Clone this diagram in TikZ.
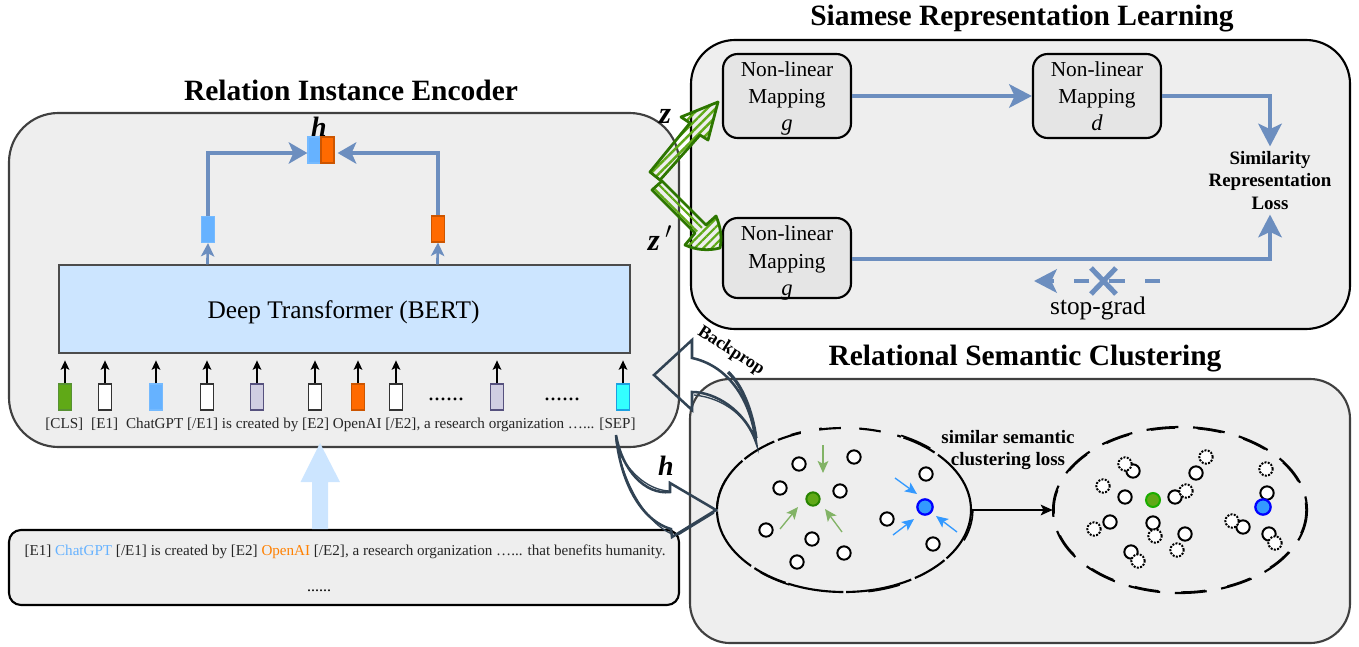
\documentclass[tikz,border=0pt]{standalone}
\usepackage{fontspec}
\setmainfont{Liberation Serif}
\usetikzlibrary{arrows.meta,patterns.meta,calc}
\definecolor{panelfill}{HTML}{EEEEEE}
\definecolor{bluelink}{HTML}{6C8EBF}
\definecolor{tokblue}{HTML}{66B2FF}
\definecolor{tokorange}{HTML}{FF6A00}
\definecolor{tokpurple}{HTML}{D0CEE2}
\definecolor{tokpurpleline}{HTML}{56517E}
\definecolor{tokgreen}{HTML}{60A917}
\definecolor{darkgreen}{HTML}{2D7600}
\definecolor{slatearrow}{HTML}{314354}
\definecolor{bertfill}{HTML}{CCE5FF}
\definecolor{greenlink}{HTML}{82B366}
\definecolor{bluein}{HTML}{3399FF}
\definecolor{tokcyan}{HTML}{33FFFF}
\definecolor{tokcyanline}{HTML}{1BA1E2}
\tikzset{
  panel/.style={draw,fill=panelfill,inner sep=0pt,line width=1.6pt},
  tok/.style={draw,inner sep=0pt,minimum width=9.75pt,minimum height=19.5pt,line width=0.9pt},
  tokw/.style={tok,fill=white,draw=black!80},
  tokb/.style={tok,fill=tokblue,draw=tokblue!90!white},
  toko/.style={tok,fill=tokorange,draw=tokorange!80!black},
  tokp/.style={tok,fill=tokpurple,draw=tokpurpleline},
  tokg/.style={tok,fill=tokgreen,draw=darkgreen!80},
  tokc/.style={tok,fill=tokcyan,draw=tokcyanline},
  bigblue/.style={draw=bluelink,line width=3.6pt,-{Stealth[length=17pt,width=17.5pt,inset=4pt]}},
  midblue/.style={draw=bluelink,line width=2.6pt,-{Stealth[length=14pt,width=16pt,inset=3.5pt]}},
  smallblue/.style={draw=bluelink,line width=2pt,-{Stealth[length=10pt,width=10pt,inset=2.5pt]}},
  tiny/.style={draw=black,line width=0.9pt,-{Stealth[length=7pt,width=6.5pt,inset=1.5pt]}},
  mapbox/.style={draw,fill=black!10,rounded corners=11pt,line width=1.6pt,minimum width=96pt,align=center,inner sep=0pt,font=\fontsize{16}{20.5}\selectfont},
  titlefont/.style={font=\fontsize{22.1}{26}\selectfont\bfseries},
  lossfont/.style={font=\fontsize{14.2}{17}\selectfont\bfseries,align=center},
  open/.style={circle,draw=black,fill=white,line width=1.5pt,minimum size=10pt,inner sep=0pt},
  dots/.style={open,densely dotted},
  sketcharrow/.style={draw=darkgreen,line width=2.1pt,line join=round},
  slatecurve/.style={draw=slatearrow,line width=1.9pt,line join=miter},
  gin/.style={draw=greenlink,line width=1pt,-{Stealth[length=9pt,width=8pt,inset=2pt]}},
  bin/.style={draw=bluein,line width=1pt,-{Stealth[length=9pt,width=8pt,inset=2pt]}},
}
\begin{document}
\begin{tikzpicture}[x=0.75pt,y=-0.75pt]
\useasboundingbox (0,0) rectangle (1359,646);

% panels
\node[panel,draw=black!75,minimum width=502.5pt,minimum height=250.5pt,rounded corners=37pt] (enc) at (344,280) {};
\node[panel,draw=black,minimum width=494.25pt,minimum height=216.75pt,rounded corners=33pt] (sia) at (1020.5,184.5) {};
\node[panel,draw=black!75,minimum width=495pt,minimum height=198pt,rounded corners=30pt] (clu) at (1020,511) {};
\node[panel,draw=black,minimum width=502.5pt,minimum height=56.25pt,rounded corners=9pt] (inp) at (344,567.5) {};

% titles
\node[titlefont] (t1) at (351,90) {Relation Instance Encoder};
\node[titlefont] (t2) at (1022,18.5) {Siamese Representation Learning};
\node[titlefont] (t3) at (1025,359) {Relational Semantic Clustering};

% BERT
\node[draw=black!70,fill=bertfill,line width=0.9pt,minimum width=428.25pt,minimum height=66pt,inner sep=0pt] (bert) at (344.5,309) {};
\node[font=\fontsize{19}{23}\selectfont,inner sep=0pt] (berttext) at (343.5,312) {Deep Transformer (BERT)};

% tokens
\node[tokg] (k1) at (65,397) {};
\node[tokw] (k2) at (105,397) {};
\node[tokb] (k3) at (156,397) {};
\node[tokw] (k4) at (207,397) {};
\node[tokp] (k5) at (257,397) {};
\node[tokw] (k6) at (315,397) {};
\node[toko] (k7) at (358,397) {};
\node[tokw] (k8) at (396,397) {};
\node[tokp] (k9) at (497,397) {};
\node[tokc] (k10) at (623,397) {};
\foreach \i in {1,...,10}{
  \coordinate (e\i) at ($(k\i.north)+(0,-23)$);
  \draw[tiny] (k\i.north) -- (e\i);
}
\node[font=\fontsize{18}{20}\selectfont,anchor=base,inner sep=0pt] (dots1) at (446,400) {......};
\node[font=\fontsize{18}{20}\selectfont,anchor=base,inner sep=0pt] (dots2) at (562,400) {......};
\node[font=\fontsize{11.35}{13}\selectfont,text=black!85,inner sep=0pt] (sent) at (340.5,424.5) {[CLS]\hspace{6pt}[E1]\hspace{6pt}ChatGPT [/E1] is created by [E2] OpenAI [/E2], a research organization …... [SEP]};

% encoder output
\node[tokb] (hl) at (208,229.5) {};
\node[toko] (hr) at (438,229) {};
\node[tokb] (hb) at (314.5,150) {};
\node[toko] (ho) at (327.5,150) {};
\node[font=\fontsize{21}{24}\selectfont\bfseries\itshape] (hlab) at (319,127) {h};
\draw[smallblue] ($(bert.north west)+(149,0)$) -- (hl.south);
\draw[smallblue] ($(bert.north west)+(379,0)$) -- (hr.south);
\draw[midblue] (hl.north) |- ($(hb.west)+(0,3)$);
\draw[midblue] (hr.north) |- ($(ho.east)+(3,3)$);

% input box
\node[font=\fontsize{11.33}{13}\selectfont,text=black!85,inner sep=0pt] (intext) at (345,551.5) {[E1] \textcolor{tokblue}{ChatGPT} [/E1] is created by [E2] \textcolor{orange}{OpenAI} [/E2], a research organization …... that benefits humanity.};
\node[font=\fontsize{12}{14}\selectfont] (indots) at (319,591) {......};
\fill[bertfill] (320,443) -- (340,482) -- (328,482) -- (328,529) -- (312,529) -- (312,482) -- (300.5,482) -- cycle;

% mapping boxes
\node[mapbox,minimum height=63pt] (m1) at (787,96) {Non-linear\\Mapping\\{\fontsize{17}{20.5}\selectfont\smash{\textit{g}}}};
\node[mapbox,minimum height=63pt] (m2) at (1097,96) {Non-linear\\Mapping\\{\fontsize{17}{20.5}\selectfont\smash{\textit{d}}}};
\node[mapbox,minimum height=60pt] (m3) at (787,258) {\rule{0pt}{15pt}Non-linear\\Mapping\\{\fontsize{17}{20.5}\selectfont\smash{\textit{g}}}};
\node[lossfont] (loss) at (1270,180.5) {Similarity\\Representation\\Loss};
\draw[bigblue] (m1.east) -- (m2.west);
\draw[bigblue] (m2.east) -| (loss.north);
\draw[bigblue] (m3.east |- 0,259) -| (loss.south);
\coordinate (sgs) at (1160,281);
\coordinate (sge) at (1034,281);
\draw[draw=bluelink,line width=3.4pt,dash pattern=on 11.5pt off 15pt,-{Stealth[length=17pt,width=17.5pt,inset=4pt]}] (sgs) -- (sge);
\draw[bluelink,line width=3.8pt] (1091,268) -- (1116,294) (1116,268) -- (1091,294);
\node[font=\fontsize{19}{23}\selectfont] (sg) at (1098,308) {stop-grad};

% sketched z arrows
\path[pattern={Lines[angle=45,distance=4.5pt,line width=1.8pt]},pattern color=tokgreen]
  (650,172) -- (660,180) -- (700,135) -- (708,140) -- (718,102) -- (681,117) -- (690,123) -- cycle;
\draw[sketcharrow] (650,172) -- (660,180) -- (700,135) -- (708,140) -- (718,102) -- (681,117) -- (690,123) -- cycle;
\path[pattern={Lines[angle=45,distance=4.5pt,line width=1.6pt]},pattern color=tokgreen]
  (695,233) -- (706,225) -- (716,216) .. controls (721,228) and (722,238) .. (720,248) .. controls (708,251) and (696,250) .. (685,245) -- cycle;
\path[pattern={Lines[angle=-45,distance=4.5pt,line width=1.6pt]},pattern color=tokgreen]
  (652,190) -- (662,181) -- (706,225) -- (695,233) -- cycle;
\draw[sketcharrow] (652,190) -- (662,181) -- (706,225) -- (716,216) .. controls (721,228) and (722,238) .. (720,248) .. controls (708,251) and (696,250) .. (685,245) -- (695,233) -- cycle;
\node[font=\fontsize{23}{26}\selectfont\bfseries\itshape] (zl) at (665,116) {z};
\node[font=\fontsize{23}{26}\selectfont\bfseries\itshape] (zp) at (660,238) {z$\,'$};

% ellipses
\coordinate (ce1) at (844,510);
\coordinate (ce2) at (1180,510);
\draw[black,line width=1.6pt,dash pattern=on 42pt off 2pt on 26pt off 3pt on 50pt off 2pt] (ce1) ellipse [x radius=127,y radius=82];
\draw[black,line width=1.2pt,dash pattern=on 24pt off 60pt] ([xshift=0.6pt]ce1) ellipse [x radius=128,y radius=83];
\draw[panelfill,line width=4pt] (801,432.5) -- (819,429.5) (841,428) -- (859,428) (881,431) -- (897,436);
\draw[black,line width=1.6pt,dash pattern=on 24pt off 11pt] (ce2) ellipse [x radius=127,y radius=83];
\draw[black,line width=1.1pt,dash pattern=on 18pt off 17pt] (ce2) ellipse [x radius=126,y radius=82];
\node[inner sep=0pt,minimum size=0pt] (el1e) at (971,510) {};
\node[inner sep=0pt,minimum size=0pt] (el2w) at (1053,510) {};
\draw[black,line width=1.2pt,-{Stealth[length=9pt,width=8pt,inset=2pt]}] (el1e) -- (el2w);
\node[lossfont] (simloss) at (1008,450) {similar semantic\\clustering loss};

% left cluster
\foreach \x/\y [count=\n] in {799/464,854/457,780/488,840/491,766/530,812/539,844/553,797/562,887/519,926/474,933/544}
  \node[open] (a\n) at (\x,\y) {};
\node[circle,draw=darkgreen!90!green,fill=tokgreen,line width=1.5pt,minimum size=10pt,inner sep=0pt] (ga) at (813,499) {};
\node[circle,draw=blue,fill=bluein,line width=1.7pt,minimum size=11.5pt,inner sep=0pt] (ba) at (925,507) {};
\coordinate (g1) at (823,445);
\coordinate (g2) at (780,529);
\coordinate (g3) at (842,532);
\coordinate (g1t) at (823,473);
\coordinate (g2t) at (798,507);
\coordinate (g3t) at (825,509);
\draw[gin] (g1) -- (g1t);
\draw[gin] (g2) -- (g2t);
\draw[gin] (g3) -- (g3t);
\coordinate (b1) at (895,478);
\coordinate (b2) at (893,535);
\coordinate (b3) at (957,532);
\coordinate (b1t) at (917,494);
\coordinate (b2t) at (914,519);
\coordinate (b3t) at (936,516);
\draw[bin] (b1) -- (b1t);
\draw[bin] (b2) -- (b2t);
\draw[bin] (b3) -- (b3t);

% right cluster
\foreach \x/\y [count=\n] in {1133/471,1196/473,1125/497,1175/497,1110/522,1153/523,1185/534,1131/552,1243/527,1267/493,1269/534}
  \node[open] (c\n) at (\x,\y) {};
\foreach \x/\y [count=\n] in {1125/464,1206/457,1103/486,1186/491,1094/529,1155/536,1177/550,1138/561,1232/521,1266/469,1275/543}
  \node[dots] (d\n) at (\x,\y) {};
\node[circle,draw=darkgreen!60!green,fill=tokgreen,line width=1.5pt,minimum size=10.5pt,inner sep=0pt] (gb) at (1153,500) {};
\node[circle,draw=blue,fill=bluein,line width=1.7pt,minimum size=11.5pt,inner sep=0pt] (bb) at (1263,507) {};

% backprop arrow
\coordinate (bpt) at (756,442);
\draw[slatecurve] (bpt) .. controls (750,395) and (725,365) .. (692,358) -- (692,340) -- (654,375) -- (692,410) -- (692,392) .. controls (715,392) and (745,410) .. cycle;
\draw[slatecurve,line width=1pt] (bpt) .. controls (748,418) and (725,398) .. (694,395);
\draw[slatecurve,line width=2.4pt] (756,438) .. controls (752,410) and (742,385) .. (728,372);
\node[font=\fontsize{13.5}{16}\selectfont\bfseries,rotate=-33] (bp) at (731,351) {Backprop};
\node[font=\fontsize{21}{24}\selectfont\bfseries\itshape] (hh) at (666,466) {h};

% h arrows
\coordinate (hs) at (616,435);
\draw[slatecurve] (hs) .. controls (622,470) and (645,495) .. (670,492) -- (670,483) -- (716,510) -- (672,537) -- (671,529) .. controls (640,520) and (620,480) .. cycle;
\draw[slatecurve,line width=1pt] (618,450) .. controls (630,475) and (650,490) .. (669,491);
\draw[slatecurve,line width=1pt] (678,535) -- (714,513);
\draw[slatecurve,line width=1pt] (616,440) .. controls (624,490) and (650,525) .. (672,534);
\end{tikzpicture}
\end{document}
